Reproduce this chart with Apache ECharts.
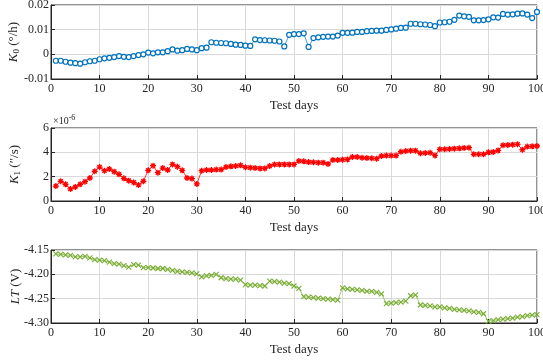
<!DOCTYPE html>
<html>
<head>
<meta charset="utf-8">
<script src="https://cdn.jsdelivr.net/npm/echarts@6/dist/echarts.min.js"></script>
<style>
  html, body { margin: 0; padding: 0; background: #fff; }
  #chart { width: 543px; height: 360px; }
</style>
</head>
<body>
<div id="chart"></div>
<script>
// test days 1..100
const days = Array.from({ length: 100 }, (_, i) => i + 1);

// K0 (deg/h)
const k0 = [
  -0.0026, -0.0026, -0.0030, -0.0034, -0.0036, -0.0038, -0.0032, -0.0028, -0.0026, -0.0020,
  -0.0016, -0.0014, -0.0011, -0.0007, -0.0010, -0.0011, -0.0007, -0.0003, 0.0000, 0.0007,
  0.0004, 0.0008, 0.0008, 0.0013, 0.0020, 0.0015, 0.0017, 0.0022, 0.0020, 0.0017,
  0.0025, 0.0027, 0.0049, 0.0047, 0.0046, 0.0045, 0.0042, 0.0039, 0.0038, 0.0035,
  0.0034, 0.0061, 0.0058, 0.0057, 0.0056, 0.0055, 0.0052, 0.0032, 0.0079, 0.0082,
  0.0082, 0.0085, 0.0030, 0.0066, 0.0069, 0.0071, 0.0072, 0.0072, 0.0076, 0.0087,
  0.0087, 0.0088, 0.0091, 0.0091, 0.0094, 0.0095, 0.0096, 0.0096, 0.0099, 0.0101,
  0.0104, 0.0107, 0.0108, 0.0124, 0.0124, 0.0122, 0.0121, 0.0119, 0.0114, 0.0129,
  0.0130, 0.0132, 0.0140, 0.0157, 0.0154, 0.0152, 0.0138, 0.0138, 0.0139, 0.0142,
  0.0150, 0.0149, 0.0164, 0.0161, 0.0162, 0.0165, 0.0166, 0.0161, 0.0147, 0.0172
];

// K1 (x1e-6 "/s)
const k1 = [
  1.23, 1.62, 1.37, 0.99, 1.15, 1.37, 1.59, 1.89, 2.44, 2.79,
  2.49, 2.63, 2.41, 2.19, 1.86, 1.67, 1.53, 1.32, 1.62, 2.52,
  2.90, 2.33, 2.71, 2.55, 3.01, 2.82, 2.52, 1.89, 1.84, 1.40,
  2.49, 2.55, 2.55, 2.58, 2.58, 2.79, 2.85, 2.88, 2.93, 2.77,
  2.74, 2.71, 2.68, 2.68, 2.88, 3.00, 3.01, 3.01, 3.01, 3.01,
  3.29, 3.26, 3.20, 3.18, 3.15, 3.15, 3.04, 3.37, 3.37, 3.40,
  3.42, 3.62, 3.62, 3.56, 3.53, 3.51, 3.48, 3.70, 3.73, 3.73,
  3.73, 4.05, 4.11, 4.14, 4.14, 3.92, 3.95, 3.97, 3.75, 4.25,
  4.25, 4.27, 4.30, 4.33, 4.36, 4.38, 3.84, 3.84, 3.84, 4.00,
  4.03, 4.16, 4.58, 4.60, 4.63, 4.66, 4.22, 4.47, 4.49, 4.52
];

// LT (V)
const lt = [
  -4.158, -4.159, -4.160, -4.161, -4.164, -4.164, -4.163, -4.166, -4.170, -4.171,
  -4.172, -4.175, -4.178, -4.179, -4.182, -4.185, -4.180, -4.181, -4.186, -4.186,
  -4.187, -4.188, -4.188, -4.190, -4.192, -4.194, -4.195, -4.196, -4.197, -4.199,
  -4.205, -4.203, -4.202, -4.200, -4.207, -4.209, -4.210, -4.210, -4.212, -4.221,
  -4.222, -4.222, -4.223, -4.224, -4.214, -4.215, -4.216, -4.218, -4.219, -4.224,
  -4.229, -4.246, -4.247, -4.248, -4.249, -4.250, -4.251, -4.252, -4.253, -4.228,
  -4.230, -4.231, -4.232, -4.233, -4.235, -4.235, -4.237, -4.240, -4.260, -4.259,
  -4.258, -4.257, -4.255, -4.244, -4.242, -4.263, -4.264, -4.265, -4.267, -4.267,
  -4.269, -4.270, -4.272, -4.273, -4.274, -4.275, -4.277, -4.278, -4.281, -4.296,
  -4.295, -4.293, -4.292, -4.291, -4.290, -4.288, -4.287, -4.285, -4.284, -4.283
];

const FONT = 'Liberation Serif';
const TXT = '#262626';

const chart = echarts.init(document.getElementById('chart'));

const grids = [
  { left: 51, top: 5, width: 486, height: 74 },
  { left: 51, top: 128, width: 486, height: 73 },
  { left: 51, top: 250, width: 486, height: 73 }
].map(g => Object.assign(g, { show: true, borderColor: TXT, borderWidth: 1, outerBoundsMode: 'none' }));

function xAxis(i) {
  return {
    type: 'value', gridIndex: i, min: 0, max: 100, interval: 10,
    name: 'Test days', nameLocation: 'middle', nameGap: 20, nameMoveOverlap: false,
    nameTextStyle: { fontFamily: FONT, fontSize: 13, color: TXT },
    axisLine: { show: true, onZero: false, lineStyle: { color: TXT } },
    axisTick: { show: true, inside: true, length: 4, lineStyle: { color: TXT } },
    axisLabel: { fontFamily: FONT, fontSize: 12, color: TXT, margin: 4 },
    splitLine: { show: true, lineStyle: { color: '#d9d9d9', width: 1 } }
  };
}

function yAxis(i, min, max, interval, name, fmt, gap) {
  return {
    type: 'value', gridIndex: i, min, max, interval,
    name, nameLocation: 'middle', nameGap: gap, nameRotate: 90, nameMoveOverlap: false,
    nameTextStyle: {
      rich: {
        it: { fontFamily: FONT, fontSize: 13, fontStyle: 'italic', color: TXT },
        sub: { fontFamily: FONT, fontSize: 9, color: TXT, padding: [5, 0, 0, 0] },
        n: { fontFamily: FONT, fontSize: 13, color: TXT }
      }
    },
    axisLine: { show: true, onZero: false, lineStyle: { color: TXT } },
    axisTick: { show: true, inside: true, length: 4, lineStyle: { color: TXT } },
    axisLabel: { fontFamily: FONT, fontSize: 12, color: TXT, margin: 2, formatter: fmt },
    splitLine: { show: true, lineStyle: { color: '#d9d9d9', width: 1 } }
  };
}

const pair = arr => arr.map((v, i) => [days[i], v]);

const option = {
  animation: false,
  grid: grids,
  xAxis: [xAxis(0), xAxis(1), xAxis(2)],
  yAxis: [
    yAxis(0, -0.01, 0.02, 0.01, '{it|K}{sub|0}{n| (°/h)}', v => (Math.abs(v) < 1e-9 ? '0' : v.toFixed(2)), 30),
    yAxis(1, 0, 6, 2, '{it|K}{sub|1}{n| (″/s)}', v => String(v), 29),
    yAxis(2, -4.30, -4.15, 0.05, '{it|LT}{n| (V)}', v => v.toFixed(2), 29)
  ],
  graphic: [{
    type: 'text', left: 53, top: 114,
    style: {
      text: '{a|×10}{b|-6}',
      rich: {
        a: { fontFamily: FONT, fontSize: 10, fill: TXT },
        b: { fontFamily: FONT, fontSize: 8, fill: TXT, verticalAlign: 'top', padding: [0, 0, 6, 0] }
      }
    }
  }],
  series: [
    {
      type: 'line', xAxisIndex: 0, yAxisIndex: 0, data: pair(k0),
      symbol: 'circle', symbolSize: 5,
      itemStyle: { color: '#fff', borderColor: '#0072BD', borderWidth: 1.2 },
      lineStyle: { color: '#0072BD', width: 0.7 }
    },
    {
      type: 'line', xAxisIndex: 1, yAxisIndex: 1, data: pair(k1),
      symbol: 'path://M5,0L5,10M0,5L10,5M1.5,1.5L8.5,8.5M8.5,1.5L1.5,8.5', symbolSize: 6,
      itemStyle: { color: '#ff0000', borderColor: '#ff0000', borderWidth: 1.3 },
      lineStyle: { color: '#ff0000', width: 0.8 }
    },
    {
      type: 'line', xAxisIndex: 2, yAxisIndex: 2, data: pair(lt),
      symbol: 'path://M0,0L10,10M10,0L0,10', symbolSize: 5,
      itemStyle: { color: 'rgba(0,0,0,0)', borderColor: '#77AC30', borderWidth: 1.1 },
      lineStyle: { color: '#77AC30', width: 0.7 }
    }
  ]
};

chart.setOption(option);
</script>
</body>
</html>
